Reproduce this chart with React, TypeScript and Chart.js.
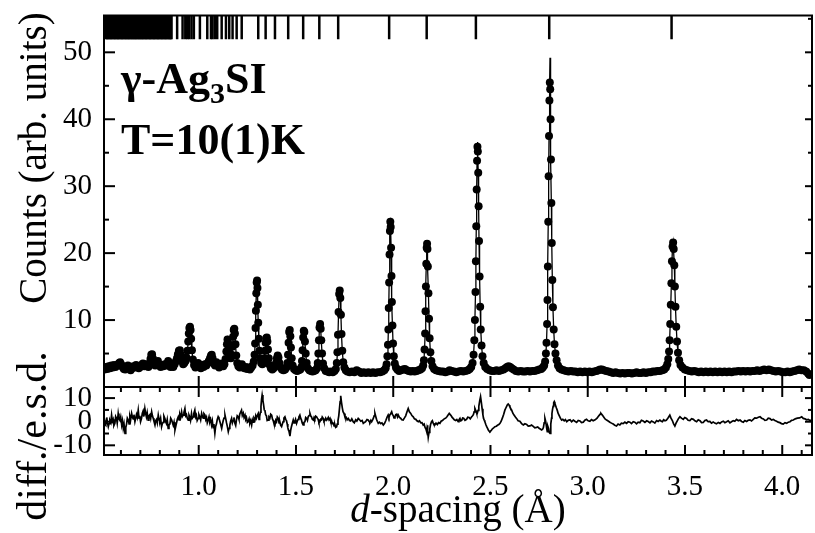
import React, { useEffect, useRef } from 'react';
import { Chart, registerables } from 'chart.js';

Chart.register(...registerables);

// ---- axis ranges & tick values ----
const D_MIN = 0.513;
const D_MAX = 4.153;
const COUNTS_MIN = 0;
const COUNTS_MAX = 55.5;
const DIFF_MIN = -14.1;
const DIFF_MAX = 14.7;
const MARKER_LEVEL = 53.7;

const dMajor = [1.0, 1.5, 2.0, 2.5, 3.0, 3.5, 4.0];
const dMinor = [0.6, 0.7, 0.8, 0.9, 1.1, 1.2, 1.3, 1.4, 1.6, 1.7, 1.8, 1.9, 2.1, 2.2, 2.3, 2.4, 2.6, 2.7, 2.8, 2.9, 3.1, 3.2, 3.3, 3.4, 3.6, 3.7, 3.8, 3.9, 4.1];
const countsMajor = [10, 20, 30, 40, 50];
const countsMinor = [5, 15, 25, 35, 45, 55];
const diffMajor = [-10, 0, 10];
const diffMinor = [-5, 5];

// ---- observed counts: [d-spacing, counts] ----
const observed: [number, number][] = [
  [0.516,2.6],[0.523,3.0],[0.530,2.7],[0.537,3.1],[0.544,2.8],[0.551,3.2],[0.558,2.9],[0.565,3.3],[0.572,3.0],[0.579,3.2],
  [0.586,3.4],[0.591,3.6],[0.596,3.7],[0.601,3.4],[0.608,3.0],[0.615,2.7],[0.622,2.6],[0.629,2.9],[0.636,3.2],[0.643,2.8],
  [0.650,2.5],[0.657,2.8],[0.664,3.1],[0.671,2.9],[0.678,3.3],[0.685,3.1],[0.692,2.8],[0.699,3.0],[0.706,3.3],[0.713,3.5],
  [0.720,3.1],[0.727,3.4],[0.734,3.2],[0.741,3.0],[0.747,3.5],[0.752,4.2],[0.756,4.8],[0.760,4.9],[0.764,4.3],[0.769,3.6],
  [0.776,3.2],[0.783,3.5],[0.790,3.9],[0.797,3.4],[0.804,3.0],[0.811,3.3],[0.818,3.1],[0.825,3.4],[0.832,3.2],[0.838,3.5],
  [0.843,3.9],[0.848,3.5],[0.855,3.0],[0.862,3.3],[0.869,3.0],[0.876,3.4],[0.882,3.8],[0.888,4.3],[0.893,4.9],[0.898,5.4],
  [0.903,5.5],[0.908,4.8],[0.914,3.9],[0.920,3.4],[0.926,3.6],[0.932,3.9],[0.937,4.4],[0.942,5.4],[0.946,6.8],[0.949,8.0],
  [0.952,8.8],[0.955,9.0],[0.958,8.5],[0.961,7.2],[0.965,5.5],[0.970,4.1],[0.976,3.3],[0.983,2.9],[0.990,3.2],[0.997,3.6],
  [1.004,3.1],[1.011,2.8],[1.018,3.3],[1.025,3.0],[1.032,3.4],[1.039,3.2],[1.046,3.6],[1.052,3.9],[1.058,4.3],[1.063,4.7],
  [1.067,4.8],[1.071,4.3],[1.077,3.5],[1.084,3.2],[1.091,3.7],[1.098,3.3],[1.105,2.9],[1.112,3.2],[1.119,3.5],[1.126,3.1],
  [1.132,3.4],[1.138,4.2],[1.142,5.3],[1.145,6.4],[1.148,7.1],[1.151,6.6],[1.155,5.3],[1.160,4.4],[1.165,4.3],[1.169,4.8],
  [1.173,6.0],[1.177,7.5],[1.180,8.5],[1.183,8.7],[1.186,8.0],[1.189,6.4],[1.193,4.7],[1.198,3.6],[1.204,3.1],[1.211,2.9],
  [1.217,3.2],[1.222,3.4],[1.228,3.0],[1.235,2.8],[1.242,3.0],[1.249,2.7],[1.256,2.9],[1.263,2.6],[1.270,2.9],[1.277,3.2],
  [1.283,3.8],[1.287,4.8],[1.290,6.5],[1.292,8.8],[1.294,11.4],[1.296,14.0],[1.298,15.6],[1.300,15.9],[1.302,14.8],[1.304,12.3],
  [1.306,9.6],[1.309,7.2],[1.312,5.4],[1.316,4.3],[1.321,3.6],[1.327,3.4],[1.333,3.6],[1.338,4.3],[1.341,5.4],[1.344,6.6],
  [1.347,7.3],[1.350,7.4],[1.353,6.8],[1.356,5.6],[1.360,4.3],[1.365,3.3],[1.371,2.8],[1.378,2.6],[1.385,2.8],[1.392,3.1],
  [1.398,3.6],[1.402,4.3],[1.406,4.7],[1.410,4.4],[1.415,3.6],[1.421,2.9],[1.428,2.6],[1.436,2.5],[1.444,2.6],[1.451,2.9],
  [1.456,3.6],[1.459,4.8],[1.462,6.6],[1.465,8.2],[1.468,8.5],[1.471,7.6],[1.474,5.9],[1.478,4.3],[1.483,3.2],[1.490,2.7],
  [1.498,2.5],[1.506,2.4],[1.514,2.5],[1.522,2.6],[1.528,3.0],[1.531,3.9],[1.534,5.5],[1.537,7.4],[1.540,8.4],[1.543,8.2],
  [1.546,6.8],[1.550,5.0],[1.555,3.6],[1.561,2.8],[1.569,2.5],[1.577,2.4],[1.585,2.3],[1.593,2.4],[1.601,2.5],[1.608,2.8],
  [1.612,3.6],[1.615,5.0],[1.618,7.0],[1.621,8.9],[1.624,9.4],[1.627,8.7],[1.630,7.0],[1.634,5.0],[1.639,3.5],[1.645,2.8],
  [1.653,2.4],[1.662,2.3],[1.671,2.2],[1.680,2.3],[1.689,2.2],[1.698,2.4],[1.705,2.7],[1.710,3.6],[1.713,5.2],[1.716,7.8],
  [1.719,11.2],[1.722,13.9],[1.725,14.4],[1.728,13.3],[1.731,10.8],[1.734,7.9],[1.738,5.4],[1.743,3.7],[1.749,2.9],[1.756,2.5],
  [1.764,2.3],[1.776,2.2],[1.788,2.3],[1.800,2.2],[1.812,2.5],[1.824,2.3],[1.836,2.1],[1.848,2.2],[1.860,2.1],[1.872,2.2],
  [1.884,2.1],[1.896,2.2],[1.908,2.1],[1.920,2.2],[1.932,2.2],[1.944,2.3],[1.954,2.5],[1.961,2.8],[1.966,3.4],[1.970,4.6],
  [1.973,6.3],[1.975,8.6],[1.977,11.8],[1.979,15.6],[1.981,19.8],[1.983,23.3],[1.985,24.7],[1.987,23.9],[1.989,20.8],[1.991,16.6],
  [1.993,12.7],[1.996,9.2],[1.999,6.5],[2.003,4.6],[2.008,3.5],[2.014,2.9],[2.021,2.6],[2.030,2.4],[2.040,2.5],[2.050,2.6],
  [2.060,2.7],[2.070,2.5],[2.080,2.4],[2.090,2.3],[2.100,2.4],[2.110,2.3],[2.120,2.4],[2.130,2.5],[2.140,2.6],[2.148,2.8],
  [2.154,3.2],[2.158,4.0],[2.161,5.6],[2.164,8.0],[2.166,11.3],[2.168,15.0],[2.170,18.4],[2.172,20.8],[2.174,21.4],[2.176,20.6],
  [2.178,18.0],[2.181,14.0],[2.184,10.2],[2.187,7.3],[2.191,5.2],[2.196,3.9],[2.202,3.1],[2.210,2.7],[2.220,2.5],[2.232,2.4],
  [2.244,2.3],[2.256,2.3],[2.268,2.2],[2.280,2.3],[2.290,2.5],[2.300,2.4],[2.312,2.3],[2.324,2.2],[2.336,2.3],[2.348,2.4],
  [2.360,2.3],[2.372,2.4],[2.384,2.5],[2.393,2.7],[2.401,3.0],[2.408,3.6],[2.413,4.8],[2.417,7.0],[2.420,10.0],[2.423,14.2],
  [2.425,18.8],[2.427,24.0],[2.429,29.5],[2.431,33.8],[2.433,35.9],[2.435,35.2],[2.437,32.0],[2.439,27.0],[2.441,21.8],[2.444,16.5],
  [2.447,12.0],[2.450,8.6],[2.454,6.2],[2.459,4.6],[2.465,3.6],[2.473,3.0],[2.483,2.7],[2.495,2.5],[2.507,2.4],[2.519,2.4],
  [2.531,2.5],[2.543,2.4],[2.555,2.5],[2.567,2.6],[2.577,2.8],[2.585,3.0],[2.593,3.1],[2.601,3.0],[2.609,2.8],[2.619,2.6],
  [2.631,2.4],[2.643,2.3],[2.655,2.4],[2.667,2.3],[2.679,2.3],[2.691,2.4],[2.703,2.3],[2.715,2.4],[2.727,2.4],[2.739,2.5],
  [2.751,2.6],[2.761,2.7],[2.769,2.9],[2.776,3.2],[2.781,3.8],[2.785,5.0],[2.788,6.6],[2.791,9.4],[2.793,13.0],[2.795,18.0],
  [2.797,24.7],[2.799,31.5],[2.801,37.5],[2.803,42.8],[2.805,45.5],[2.807,44.5],[2.809,40.0],[2.811,34.0],[2.813,27.5],[2.815,21.5],
  [2.818,16.0],[2.821,11.9],[2.825,8.6],[2.829,6.4],[2.834,5.0],[2.840,4.0],[2.847,3.2],[2.855,2.8],[2.865,2.6],[2.877,2.5],
  [2.889,2.4],[2.901,2.3],[2.913,2.4],[2.925,2.3],[2.937,2.3],[2.949,2.2],[2.961,2.3],[2.973,2.2],[2.985,2.3],[2.997,2.2],
  [3.009,2.3],[3.021,2.2],[3.033,2.3],[3.045,2.4],[3.055,2.5],[3.064,2.6],[3.073,2.6],[3.083,2.5],[3.095,2.4],[3.107,2.3],
  [3.119,2.2],[3.131,2.1],[3.143,2.2],[3.155,2.1],[3.167,2.0],[3.179,2.1],[3.191,2.0],[3.203,2.1],[3.215,2.1],[3.227,2.0],
  [3.239,2.1],[3.251,2.2],[3.263,2.1],[3.275,2.1],[3.287,2.2],[3.299,2.1],[3.311,2.2],[3.323,2.2],[3.335,2.3],[3.347,2.3],
  [3.359,2.4],[3.371,2.4],[3.383,2.5],[3.393,2.6],[3.402,2.9],[3.409,3.4],[3.414,4.2],[3.418,5.3],[3.421,7.0],[3.424,9.4],
  [3.427,12.3],[3.430,15.5],[3.433,18.8],[3.436,21.0],[3.439,21.6],[3.442,20.6],[3.445,18.2],[3.448,15.0],[3.451,12.0],[3.455,9.0],
  [3.459,6.8],[3.464,5.1],[3.470,4.0],[3.477,3.3],[3.487,2.9],[3.499,2.6],[3.511,2.5],[3.523,2.4],[3.535,2.3],[3.547,2.4],
  [3.559,2.3],[3.571,2.2],[3.583,2.3],[3.595,2.2],[3.607,2.3],[3.619,2.2],[3.631,2.3],[3.643,2.2],[3.655,2.3],[3.667,2.2],
  [3.679,2.3],[3.691,2.2],[3.703,2.3],[3.715,2.2],[3.727,2.3],[3.739,2.2],[3.751,2.3],[3.763,2.3],[3.775,2.4],[3.787,2.3],
  [3.799,2.4],[3.811,2.3],[3.823,2.4],[3.835,2.3],[3.847,2.4],[3.859,2.4],[3.871,2.5],[3.883,2.4],[3.895,2.5],[3.907,2.6],
  [3.919,2.5],[3.931,2.6],[3.943,2.5],[3.955,2.4],[3.967,2.3],[3.979,2.4],[3.991,2.3],[4.003,2.2],[4.015,2.2],[4.027,2.3],
  [4.039,2.2],[4.051,2.3],[4.063,2.4],[4.075,2.5],[4.087,2.6],[4.099,2.5],[4.111,2.5],[4.123,2.3],[4.133,2.0],[4.140,1.8]
];

// calculated-profile peak tops that rise above the observed points
const calcTops: [number, number][] = [
  [2.806, 49.2], [2.434, 36.6], [1.986, 25.3], [2.175, 21.8], [3.440, 22.0], [1.724, 14.7], [1.299, 16.2]
];

// ---- difference / e.s.d.: [d-spacing, value] ----
const difference: [number, number][] = [
  [0.515,0.5],[0.519,-1.2],[0.522,-1.5],[0.525,1.0],[0.527,1.8],[0.531,-0.5],[0.535,-2.1],[0.539,-0.8],[0.543,0.6],[0.548,-0.4],
  [0.552,2.8],[0.556,0.2],[0.560,1.0],[0.564,-1.6],[0.569,-0.7],[0.573,2.2],[0.577,1.5],[0.581,-0.6],[0.586,3.5],[0.590,1.2],
  [0.595,0.5],[0.599,2.0],[0.604,-1.4],[0.608,0.4],[0.612,-2.8],[0.616,-1.0],[0.621,-4.9],[0.625,-2.5],[0.629,-1.0],[0.633,1.5],
  [0.638,0.7],[0.642,-0.9],[0.646,2.2],[0.650,0.8],[0.655,3.5],[0.659,2.0],[0.663,1.2],[0.667,3.0],[0.672,0],[0.676,1.5],
  [0.680,3.0],[0.684,1.8],[0.689,4.9],[0.693,1.5],[0.697,2.5],[0.701,0.0],[0.706,1.4],[0.710,3.6],[0.714,4.5],[0.718,2.2],
  [0.723,5.6],[0.727,3.5],[0.731,2.0],[0.735,3.8],[0.740,0.7],[0.744,2.5],[0.749,3.0],[0.753,1.4],[0.758,4.2],[0.762,2.5],
  [0.766,1.5],[0.770,0.2],[0.775,-1.4],[0.779,0.5],[0.783,1.0],[0.787,-0.5],[0.792,2.8],[0.796,1.0],[0.800,0.2],[0.804,1.5],
  [0.809,-2.1],[0.813,-0.8],[0.817,-0.3],[0.821,2.4],[0.826,1.4],[0.830,0.0],[0.834,-0.8],[0.838,0.9],[0.843,-2.8],[0.847,-1.5],
  [0.852,-0.9],[0.856,1.5],[0.861,0.7],[0.865,-0.4],[0.869,-1.5],[0.873,-0.2],[0.878,-3.5],[0.882,-2.0],[0.886,-0.5],[0.890,1.0],
  [0.895,2.1],[0.899,0.8],[0.903,3.0],[0.907,1.9],[0.912,4.2],[0.916,2.2],[0.920,2.8],[0.924,4.0],[0.929,5.6],[0.933,2.5],
  [0.937,3.0],[0.941,1.5],[0.946,0.7],[0.950,2.8],[0.954,2.0],[0.958,0.5],[0.963,3.5],[0.967,1.5],[0.971,2.0],[0.975,3.5],
  [0.980,4.9],[0.984,2.0],[0.988,2.8],[0.992,0.5],[0.997,1.4],[1.001,3.0],[1.006,2.0],[1.010,0.8],[1.015,3.5],[1.019,2.2],
  [1.023,1.5],[1.027,3.4],[1.032,2.8],[1.036,0.9],[1.040,1.8],[1.044,-0.5],[1.049,0.7],[1.053,2.0],[1.057,0.0],[1.061,1.0],
  [1.066,-1.4],[1.070,0.3],[1.074,-2.5],[1.078,-1.0],[1.083,-4.9],[1.087,-2.0],[1.091,-1.0],[1.095,0.8],[1.100,2.1],[1.104,1.5],
  [1.109,0.0],[1.113,-1.2],[1.118,-2.8],[1.122,-1.0],[1.126,0.5],[1.130,1.5],[1.135,2.8],[1.139,1.2],[1.143,-0.5],[1.147,-2.0],
  [1.152,-4.2],[1.156,-2.8],[1.160,-1.5],[1.164,0.2],[1.169,1.4],[1.173,-0.5],[1.177,0.5],[1.181,1.8],[1.186,-0.7],[1.190,-1.6],
  [1.194,0.8],[1.198,2.5],[1.203,2.1],[1.207,1.0],[1.211,3.2],[1.215,4.0],[1.220,4.9],[1.224,2.6],[1.229,3.6],[1.233,1.8],
  [1.238,2.8],[1.242,0.9],[1.246,1.5],[1.250,-0.3],[1.254,0],[1.259,1.2],[1.263,-0.5],[1.267,0.5],[1.272,-1.4],[1.276,0.8],
  [1.280,-0.2],[1.284,1.5],[1.289,0.7],[1.293,2.5],[1.297,1.5],[1.302,2.8],[1.306,3.5],[1.310,1.0],[1.313,2.0],[1.317,4.0],
  [1.320,6.5],[1.323,9.5],[1.326,11.3],[1.330,9.0],[1.333,7.5],[1.337,5.0],[1.340,4.9],[1.344,3.0],[1.348,2.5],[1.352,0.5],
  [1.357,0.7],[1.361,2.0],[1.366,1.5],[1.370,3.2],[1.375,2.8],[1.379,1.2],[1.383,0.5],[1.387,-0.8],[1.392,-1.4],[1.396,0.6],
  [1.400,0.0],[1.404,2.0],[1.409,1.4],[1.413,-0.5],[1.417,0.0],[1.421,-1.5],[1.426,-2.1],[1.430,-1.0],[1.434,0.0],[1.438,1.6],
  [1.443,2.1],[1.447,1.0],[1.451,0.5],[1.455,-1.0],[1.458,-2.5],[1.461,-3.5],[1.464,-4.0],[1.467,-5.2],[1.469,-6.1],[1.473,-3.5],
  [1.477,-2.0],[1.481,-0.8],[1.486,0.7],[1.490,-0.5],[1.494,0.0],[1.498,1.0],[1.503,-0.7],[1.507,0.3],[1.511,1.0],[1.515,2.0],
  [1.520,2.8],[1.524,1.5],[1.528,0.8],[1.532,-0.5],[1.537,-1.4],[1.541,-0.3],[1.546,0.0],[1.550,1.8],[1.555,1.4],[1.559,0.6],
  [1.563,2.2],[1.567,2.6],[1.572,3.5],[1.576,2.4],[1.580,2.0],[1.584,1.0],[1.589,0.7],[1.593,1.8],[1.597,1.2],[1.601,2.4],
  [1.606,2.1],[1.610,1.5],[1.614,1.0],[1.618,-0.4],[1.623,0],[1.627,1.0],[1.631,0.8],[1.635,2.0],[1.640,1.4],[1.644,0.2],
  [1.649,0.5],[1.653,1.5],[1.658,0.7],[1.662,1.2],[1.666,1.8],[1.670,0.8],[1.675,1.4],[1.679,0.0],[1.683,0.3],[1.687,-0.8],
  [1.692,-0.7],[1.696,-1.8],[1.700,-1.2],[1.704,-2.4],[1.709,-2.1],[1.712,-1.0],[1.716,0.5],[1.720,2.5],[1.723,5.0],[1.727,8.5],
  [1.730,11.0],[1.734,8.2],[1.738,6.0],[1.742,4.2],[1.747,3.5],[1.752,2.0],[1.758,2.0],[1.763,0.8],[1.769,1.4],[1.775,0.5],
  [1.781,0.3],[1.787,1.2],[1.794,0],[1.800,-0.5],[1.807,0.8],[1.813,0.3],[1.820,1.4],[1.826,0.9],[1.833,0.2],[1.840,0.5],
  [1.846,-0.7],[1.852,-0.3],[1.858,0.0],[1.865,0.9],[1.871,0.7],[1.876,0.1],[1.880,-0.3],[1.885,0.6],[1.889,0],[1.894,0.8],
  [1.898,1.5],[1.902,2.5],[1.906,3.5],[1.910,2.2],[1.914,1.0],[1.918,0.2],[1.923,-0.7],[1.929,-0.2],[1.936,-0.8],[1.942,-0.5],
  [1.949,-1.4],[1.955,-0.8],[1.962,0.5],[1.968,1.8],[1.974,2.8],[1.978,1.8],[1.983,3.0],[1.987,3.4],[1.992,4.2],[1.996,3.1],
  [2.000,2.6],[2.004,1.6],[2.009,2.1],[2.013,3.0],[2.018,3.2],[2.022,2.0],[2.026,2.8],[2.032,1.8],[2.038,1.5],[2.044,0.8],
  [2.051,0.7],[2.057,1.5],[2.064,2.5],[2.070,4.0],[2.077,5.6],[2.083,4.2],[2.090,3.5],[2.096,2.6],[2.103,2.1],[2.109,1.2],
  [2.116,1.0],[2.122,0.4],[2.129,0],[2.135,0.4],[2.142,-0.5],[2.148,-0.4],[2.154,-1.4],[2.159,-1.0],[2.164,-2.5],[2.168,-3.0],
  [2.172,-4.2],[2.174,-2.8],[2.176,-1.5],[2.178,-4.0],[2.180,-6.6],[2.184,-4.5],[2.188,-3.0],[2.192,-1.2],[2.197,0],[2.201,0.4],
  [2.205,-0.5],[2.209,-1.2],[2.214,-1.4],[2.220,-0.6],[2.227,-1.2],[2.233,-0.4],[2.240,-0.7],[2.246,0.2],[2.253,0.5],[2.259,1.0],
  [2.266,1.4],[2.271,1.6],[2.277,2.2],[2.282,2.8],[2.288,3.5],[2.293,3.0],[2.298,2.5],[2.303,1.8],[2.308,1.4],[2.314,0.8],
  [2.321,0.5],[2.327,0.9],[2.334,0],[2.338,0.8],[2.343,1.4],[2.347,0.4],[2.352,0.6],[2.357,1.6],[2.362,1.5],[2.369,0.6],
  [2.377,1.0],[2.383,1.9],[2.390,1.8],[2.396,1.2],[2.403,2.1],[2.407,2.4],[2.412,3.0],[2.416,4.2],[2.420,5.6],[2.423,5.0],
  [2.426,4.5],[2.429,3.6],[2.432,3.5],[2.436,4.8],[2.440,6.5],[2.445,9.0],[2.449,10.6],[2.453,8.2],[2.457,5.5],[2.461,3.0],
  [2.464,1.5],[2.468,0.6],[2.471,0],[2.476,-1.2],[2.480,-2.0],[2.485,-2.8],[2.489,-3.5],[2.493,-4.0],[2.497,-4.2],[2.503,-3.8],
  [2.510,-3.0],[2.516,-2.6],[2.523,-2.1],[2.530,-1.9],[2.536,-1.5],[2.543,-1.2],[2.549,-0.7],[2.555,0.2],[2.561,1.5],[2.568,3.2],
  [2.574,4.9],[2.579,5.8],[2.583,6.5],[2.587,7.2],[2.591,7.5],[2.596,7.0],[2.600,6.2],[2.604,5.6],[2.609,4.9],[2.615,3.6],
  [2.621,2.8],[2.628,2.0],[2.634,1.4],[2.642,0.4],[2.651,0.2],[2.660,-0.8],[2.669,-1.4],[2.677,-0.9],[2.686,-1.2],[2.694,-1.9],
  [2.703,-1.8],[2.711,-1.4],[2.720,-2.0],[2.728,-2.6],[2.737,-2.4],[2.743,-2.2],[2.750,-2.8],[2.756,-3.1],[2.763,-3.5],[2.768,-3.2],
  [2.772,-2.5],[2.776,-0.5],[2.780,1.4],[2.783,0.4],[2.786,-1.0],[2.789,-2.8],[2.792,-4.2],[2.795,-2.0],[2.799,-3.0],[2.802,-4.5],
  [2.806,-4.9],[2.809,-3.0],[2.811,-1.0],[2.814,1.5],[2.816,3.5],[2.819,5.2],[2.822,6.5],[2.825,8.0],[2.828,8.5],[2.831,7.8],
  [2.835,6.8],[2.839,5.8],[2.843,4.9],[2.848,3.5],[2.854,2.5],[2.860,1.4],[2.866,0.7],[2.872,1.0],[2.879,0.4],[2.885,0.9],
  [2.892,0],[2.900,0.6],[2.909,0.8],[2.917,0.0],[2.926,0.7],[2.934,0.2],[2.943,-0.3],[2.951,0.5],[2.960,0.3],[2.968,-0.4],
  [2.977,-0.2],[2.985,0.6],[2.994,1.0],[3.002,0.4],[3.011,0.2],[3.019,0.9],[3.028,0.4],[3.038,0.8],[3.048,1.5],[3.054,2.2],
  [3.060,2.8],[3.064,3.2],[3.068,3.5],[3.075,2.8],[3.082,2.0],[3.089,1.2],[3.097,0.7],[3.105,0.3],[3.114,-0.2],[3.122,-0.6],
  [3.131,-1.0],[3.139,-1.5],[3.148,-1.8],[3.156,-1.0],[3.165,-1.4],[3.173,-0.6],[3.182,-0.8],[3.191,-0.2],[3.200,-0.7],[3.208,0.0],
  [3.217,-0.2],[3.225,-0.8],[3.234,0],[3.242,-0.2],[3.251,-0.9],[3.259,-0.2],[3.268,-0.4],[3.276,0.6],[3.285,0.3],[3.294,-0.3],
  [3.303,0.4],[3.311,0.1],[3.320,-0.5],[3.328,0.3],[3.337,-0.1],[3.345,-0.6],[3.354,0.5],[3.362,0.1],[3.371,0.7],[3.378,0.2],
  [3.384,0.0],[3.390,0.8],[3.397,0.4],[3.404,0.6],[3.410,1.2],[3.416,2.0],[3.422,2.8],[3.428,1.5],[3.435,0.5],[3.441,-0.8],
  [3.448,-1.8],[3.454,-0.6],[3.461,0.5],[3.467,1.4],[3.474,2.1],[3.482,1.5],[3.491,1.0],[3.499,1.8],[3.508,1.4],[3.516,0.6],
  [3.525,0.5],[3.534,1.3],[3.543,1.0],[3.551,0.4],[3.560,0.0],[3.568,0.8],[3.577,0.4],[3.585,-0.4],[3.594,-0.3],[3.602,0.5],
  [3.611,0.7],[3.619,0.0],[3.628,0.1],[3.636,-0.6],[3.645,-0.1],[3.653,-0.6],[3.662,-0.9],[3.671,-0.3],[3.680,-0.7],[3.688,-0.1],
  [3.697,0.2],[3.705,-0.4],[3.714,0],[3.722,0.4],[3.731,-0.5],[3.739,0.0],[3.748,0.4],[3.756,0.2],[3.765,1.0],[3.774,0.4],
  [3.783,0.7],[3.791,0.1],[3.800,-0.2],[3.808,0.5],[3.817,0.1],[3.825,0.6],[3.834,0.8],[3.842,0.3],[3.851,1.0],[3.859,1.6],
  [3.868,1.5],[3.877,1.9],[3.886,2.1],[3.894,1.5],[3.903,1.2],[3.911,0.6],[3.920,0.7],[3.928,1.5],[3.937,1.3],[3.945,0.7],
  [3.954,1.0],[3.962,0.5],[3.971,0.2],[3.979,-0.2],[3.988,-0.4],[3.996,-0.8],[4.005,-1.0],[4.014,-0.4],[4.023,-0.7],[4.031,-0.2],
  [4.040,0.0],[4.048,0.6],[4.057,0.7],[4.067,1.2],[4.078,1.5],[4.089,1.6],[4.100,2.1],[4.108,1.4],[4.117,1.2],[4.125,0.8],
  [4.134,1.0],[4.142,0.5],[4.150,0.7]
];

// ---- reflection positions (d-spacing) ----
const reflections: number[] = [
  0.523,0.528,0.532,0.537,0.543,0.548,0.552,0.557,0.563,0.568,0.572,0.578,0.583,0.587,0.592,0.598,0.603,0.607,0.612,0.618,
  0.623,0.627,0.633,0.638,0.642,0.647,0.653,0.658,0.662,0.668,0.673,0.677,0.682,0.688,0.693,0.697,0.703,0.708,0.712,0.717,
  0.723,0.728,0.732,0.737,0.743,0.748,0.752,0.757,0.763,0.768,0.772,0.777,0.783,0.788,0.792,0.797,0.803,0.808,0.812,0.817,
  0.823,0.828,0.832,0.837,0.843,0.848,0.852,0.857,0.860,
  0.889,0.917,0.931,0.941,0.951,0.963,0.975,1.006,1.044,1.063,1.071,1.083,1.095,1.118,1.140,1.157,1.174,1.195,1.221,
  1.306,1.344,1.392,1.460,1.537,1.620,1.717,1.979,2.172,2.425,2.802,3.431
];

const FONT = '"Liberation Serif", "Times New Roman", serif';

const noPadding = (s: any) => {
  s.paddingTop = 0;
  s.paddingBottom = 0;
  s.paddingLeft = 0;
  s.paddingRight = 0;
};

const framePlugin = {
  id: 'framePlugin',
  afterDatasetsDraw(chart: any) {
    const ctx: CanvasRenderingContext2D = chart.ctx;
    const xs = chart.scales.x;
    const ys = chart.scales.y;
    const yd = chart.scales.yd;
    const L = chart.chartArea.left;
    const R = chart.chartArea.right;
    const T = ys.top;
    const M = ys.bottom;
    const B = yd.bottom;
    ctx.save();
    ctx.strokeStyle = '#000';
    ctx.lineWidth = 2;
    const seg = (x1: number, y1: number, x2: number, y2: number) => {
      ctx.beginPath();
      ctx.moveTo(x1, y1);
      ctx.lineTo(x2, y2);
      ctx.stroke();
    };
    ctx.strokeRect(L, T, R - L, B - T);
    seg(L, M, R, M);
    countsMajor.forEach((v) => {
      const p = ys.getPixelForValue(v);
      seg(L, p, L + 11, p);
      seg(R, p, R - 7, p);
    });
    countsMinor.forEach((v) => {
      const p = ys.getPixelForValue(v);
      seg(L, p, L + 5, p);
      seg(R, p, R - 4, p);
    });
    diffMajor.forEach((v) => {
      const p = yd.getPixelForValue(v);
      seg(L, p, L + 11, p);
      seg(R, p, R - 7, p);
    });
    diffMinor.forEach((v) => {
      const p = yd.getPixelForValue(v);
      seg(L, p, L + 5, p);
      seg(R, p, R - 4, p);
    });
    dMajor.forEach((v) => {
      const p = xs.getPixelForValue(v);
      seg(p, B, p, B - 10);
      seg(p, M - 11, p, M + 10);
    });
    dMinor.forEach((v) => {
      const p = xs.getPixelForValue(v);
      seg(p, B, p, B - 5);
      seg(p, M, p, M + 5);
    });
    ctx.restore();
  },
  afterDraw(chart: any) {
    const ctx: CanvasRenderingContext2D = chart.ctx;
    const xs = chart.scales.x;
    ctx.save();
    ctx.fillStyle = '#000';
    ctx.textBaseline = 'alphabetic';

    ctx.save();
    ctx.translate(46, 158);
    ctx.rotate(-Math.PI / 2);
    ctx.textAlign = 'center';
    ctx.font = `39px ${FONT}`;
    ctx.fillText('Counts (arb. units)', 0, 0);
    ctx.restore();

    ctx.save();
    ctx.translate(46, 436);
    ctx.rotate(-Math.PI / 2);
    ctx.textAlign = 'center';
    ctx.font = `42px ${FONT}`;
    ctx.fillText('diff./e.s.d.', 0, 0);
    ctx.restore();

    const cx = (xs.left + xs.right) / 2;
    ctx.textAlign = 'left';
    ctx.font = `italic 39px ${FONT}`;
    const w1 = ctx.measureText('d').width;
    ctx.font = `39px ${FONT}`;
    const w2 = ctx.measureText('-spacing (Å)').width;
    const x0 = cx - (w1 + w2) / 2;
    ctx.font = `italic 39px ${FONT}`;
    ctx.fillText('d', x0, 522);
    ctx.font = `39px ${FONT}`;
    ctx.fillText('-spacing (Å)', x0 + w1, 522);

    let ax = 121;
    ctx.font = `bold 44px ${FONT}`;
    ctx.fillText('γ-Ag', ax, 93);
    ax += ctx.measureText('γ-Ag').width;
    ctx.font = `bold 30px ${FONT}`;
    ctx.fillText('3', ax, 103);
    ax += ctx.measureText('3').width;
    ctx.font = `bold 44px ${FONT}`;
    ctx.fillText('SI', ax, 93);
    ctx.fillText('T=10(1)K', 121, 154);
    ctx.restore();
  },
};

export default function App() {
  const ref = useRef<HTMLCanvasElement>(null);
  useEffect(() => {
    if (!ref.current) return;
    const calcLine = [...observed, ...calcTops]
      .slice()
      .sort((a, b) => a[0] - b[0])
      .map(([d, c]) => ({ x: d, y: c }));
    const chart = new Chart(ref.current, {
      type: 'scatter',
      data: {
        datasets: [
          {
            label: 'calc',
            data: calcLine,
            showLine: true,
            borderColor: '#000',
            borderWidth: 1.3,
            pointRadius: 0,
            yAxisID: 'y',
          },
          {
            label: 'obs',
            data: observed.map(([d, c]) => ({ x: d, y: c })),
            showLine: false,
            pointRadius: 4,
            pointBackgroundColor: '#000',
            pointBorderColor: '#000',
            pointBorderWidth: 0,
            yAxisID: 'y',
          },
          {
            label: 'diff',
            data: difference.map(([d, v]) => ({ x: d, y: v })),
            showLine: true,
            borderColor: '#000',
            borderWidth: 1.7,
            pointRadius: 0,
            yAxisID: 'yd',
          },
          {
            label: 'reflections',
            data: reflections.map((d) => ({ x: d, y: MARKER_LEVEL })),
            showLine: false,
            pointStyle: 'line',
            rotation: 90,
            pointRadius: 11.8,
            borderColor: '#000',
            pointBorderColor: '#000',
            borderWidth: 2.5,
            pointBorderWidth: 2.5,
            yAxisID: 'y',
          },
        ],
      } as any,
      options: {
        responsive: false,
        animation: false,
        devicePixelRatio: 1,
        events: [],
        layout: { autoPadding: false, padding: { left: 0, right: 3, top: 15.5, bottom: 0 } },
        plugins: { legend: { display: false }, tooltip: { enabled: false }, title: { display: false } },
        scales: {
          x: {
            type: 'linear',
            position: 'bottom',
            min: D_MIN,
            max: D_MAX,
            grid: { display: false, drawTicks: false },
            border: { display: false },
            afterBuildTicks: (s: any) => { s.ticks = dMajor.map((v) => ({ value: v })); },
            afterFit: (s: any) => { s.height = 78; noPadding(s); },
            ticks: {
              color: '#000',
              padding: 15,
              maxRotation: 0,
              autoSkip: false,
              font: { family: FONT, size: 29 },
              callback: (v: any) => Number(v).toFixed(1),
            },
          },
          yd: {
            type: 'linear',
            position: 'left',
            stack: 'panels',
            stackWeight: 68,
            min: DIFF_MIN,
            max: DIFF_MAX,
            grid: { display: false, drawTicks: false },
            border: { display: false },
            afterBuildTicks: (s: any) => { s.ticks = diffMajor.map((v) => ({ value: v })); },
            afterFit: (s: any) => { s.width = 104; noPadding(s); },
            ticks: { color: '#000', padding: 12, autoSkip: false, font: { family: FONT, size: 29 } },
          },
          y: {
            type: 'linear',
            position: 'left',
            stack: 'panels',
            stackWeight: 371.5,
            min: COUNTS_MIN,
            max: COUNTS_MAX,
            grid: { display: false, drawTicks: false },
            border: { display: false },
            afterBuildTicks: (s: any) => { s.ticks = countsMajor.map((v) => ({ value: v })); },
            afterFit: (s: any) => { s.width = 104; noPadding(s); },
            ticks: { color: '#000', padding: 12, autoSkip: false, font: { family: FONT, size: 29 } },
          },
        },
      } as any,
      plugins: [framePlugin],
    });
    return () => chart.destroy();
  }, []);
  return (
    <div style={{ position: 'absolute', left: 0, top: 0, width: 815, height: 533, background: '#fff' }}>
      <canvas ref={ref} width={815} height={533} style={{ display: 'block', width: 815, height: 533 }} />
    </div>
  );
}
